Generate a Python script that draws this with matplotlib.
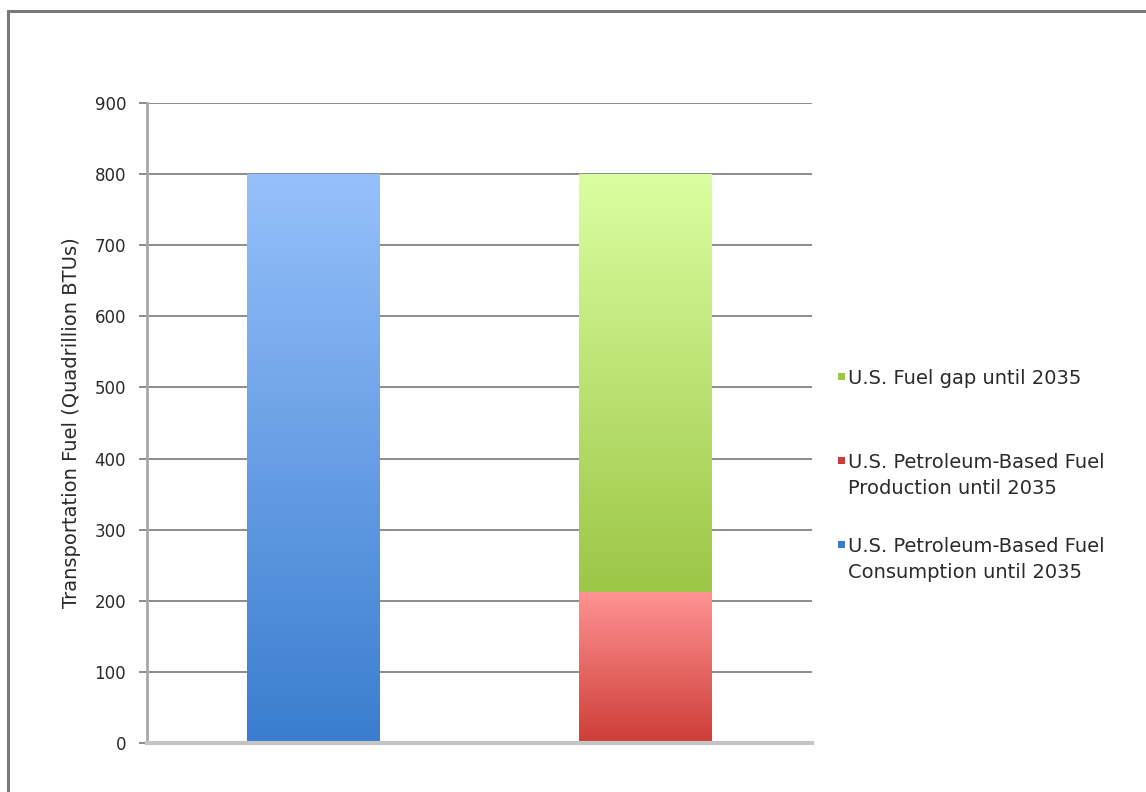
import numpy as np
import matplotlib
matplotlib.use("Agg")
import matplotlib.pyplot as plt
from matplotlib.colors import LinearSegmentedColormap
from matplotlib.patches import Rectangle

# data (Quadrillion BTUs)
positions = [0, 1]
consumption = [800, 0]
production = [0, 212]
gap = [0, 588]

labels = ["U.S. Fuel gap until 2035",
          "U.S. Petroleum-Based Fuel\nProduction until 2035",
          "U.S. Petroleum-Based Fuel\nConsumption until 2035"]
yticks = list(range(0, 901, 100))

# gradient colours (top, bottom)
blue = ("#96c0fb", "#3a7dcf")
red = ("#ff9393", "#cd3d37")
green = ("#dbfea1", "#9cc646")

plt.rcParams['font.family'] = ['DejaVu Sans']

fig = plt.figure(figsize=(11.46, 7.92), dpi=100)
ax = fig.add_axes([147/1146, 1-743/792, (812-147)/1146, (743-103)/792])

# outer frame
fig.patches.append(Rectangle((8/1146, -0.1), 1.2, 1-11/792+0.1, transform=fig.transFigure,
                             fill=False, edgecolor="#7a7a7a", linewidth=2.2))

ax.set_xlim(-0.5, 1.5)
ax.set_ylim(0, 900)


def grad_bars(vals, bottoms, cols):
    cmap = LinearSegmentedColormap.from_list("g", [cols[1], cols[0]])
    bars = ax.bar(positions, vals, width=0.4, bottom=bottoms, color="none", zorder=3)
    for b in bars:
        if b.get_height() <= 0:
            continue
        x0, y0 = b.get_x(), b.get_y()
        w, h = b.get_width(), b.get_height()
        grad = np.linspace(0, 1, 256).reshape(-1, 1)
        im = ax.imshow(grad, cmap=cmap, origin="lower", aspect="auto",
                       extent=[x0, x0 + w, y0, y0 + h], zorder=2)
        im.set_clip_path(b)


grad_bars(consumption, 0, blue)
grad_bars(production, 0, red)
grad_bars(gap, production, green)

ax.set_xlim(-0.5, 1.5)
ax.set_ylim(0, 900)

ax.set_yticks(yticks)
ax.set_yticklabels([str(t) for t in yticks], fontsize=12, color="#2a2a2a")
ax.set_xticks([])
ax.yaxis.grid(True, color="#8c8c8c", linewidth=1.4, zorder=1)
ax.set_axisbelow(True)
ax.tick_params(axis="y", length=6, width=1.4, color="#8c8c8c", pad=9)

for s in ["top", "right"]:
    ax.spines[s].set_visible(False)
ax.spines["left"].set_color("#a8a8a8")
ax.spines["left"].set_linewidth(2)
ax.spines["bottom"].set_color("#c4c4c4")
ax.spines["bottom"].set_linewidth(3)

ax.set_ylabel("Transportation Fuel (Quadrillion BTUs)", fontsize=14, color="#2a2a2a", labelpad=10)

# legend drawn by hand to keep the spacing of the original
leg_y = [384, 468, 552]
for lab, ly, col in zip(labels, leg_y, [green, red, blue]):
    fig.patches.append(Rectangle((838/1146, 1-(ly-4)/792), 7/1146, 7/792,
                                 transform=fig.transFigure, color=col[1], linewidth=0))
    for i, line in enumerate(lab.split("\n")):
        fig.text(848/1146, 1-(ly+26*i)/792, line, fontsize=14, color="#2a2a2a",
                 va="baseline", transform=fig.transFigure)

fig.savefig("out.png", dpi=100, facecolor="white")
